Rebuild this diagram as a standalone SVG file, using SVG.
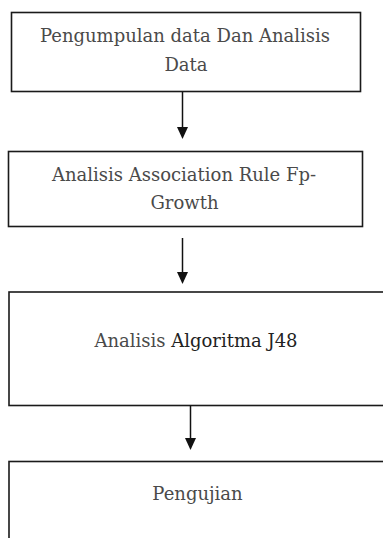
<svg xmlns="http://www.w3.org/2000/svg" width="383" height="538" viewBox="0 0 383 538">
<defs>
<style>
.box{fill:#fff;stroke:#1a1a1a;stroke-width:1.6}
.t{font-family:"DejaVu Serif","Liberation Serif",serif;font-size:18px;fill:#4a4a4a;text-anchor:middle}
.dk{fill:#222}
.ln{stroke:#111;stroke-width:1.5;fill:none}
</style>
<marker id="ah" viewBox="0 0 10 10" refX="10" refY="5" markerWidth="8" markerHeight="8" markerUnits="userSpaceOnUse" orient="auto">
<path d="M0,0 L10,5 L0,10 z" fill="#111"/>
</marker>
</defs>
<rect width="383" height="538" fill="#fff"/>
<g id="node1">
<rect class="box" x="11.5" y="12.5" width="349" height="79"/>
<text class="t" x="185" y="41.5">Pengumpulan data Dan Analisis</text>
<text class="t" x="186" y="71">Data</text>
</g>
<g id="node2">
<rect class="box" x="8.5" y="151.5" width="354" height="75"/>
<text class="t" x="184" y="180.5">Analisis Association Rule Fp-</text>
<text class="t" x="184.5" y="209">Growth</text>
</g>
<g id="node3">
<rect class="box" x="9" y="292" width="390" height="113.5"/>
<text class="t" x="196" y="346.5">Analisis <tspan class="dk">Algoritma J48</tspan></text>
</g>
<g id="node4">
<rect class="box" x="9" y="461.5" width="390" height="100"/>
<text class="t" x="197.5" y="500">Pengujian</text>
</g>
<g id="connectors">
<line class="ln" x1="182.5" y1="92" x2="182.5" y2="128"/>
<path d="M177,127 L188,127 L182.5,139 z" fill="#111"/>
<line class="ln" x1="182.5" y1="238" x2="182.5" y2="273"/>
<path d="M177,272 L188,272 L182.5,284 z" fill="#111"/>
<line class="ln" x1="190.5" y1="405.5" x2="190.5" y2="439"/>
<path d="M185,438 L196,438 L190.5,450 z" fill="#111"/>
</g>
</svg>
